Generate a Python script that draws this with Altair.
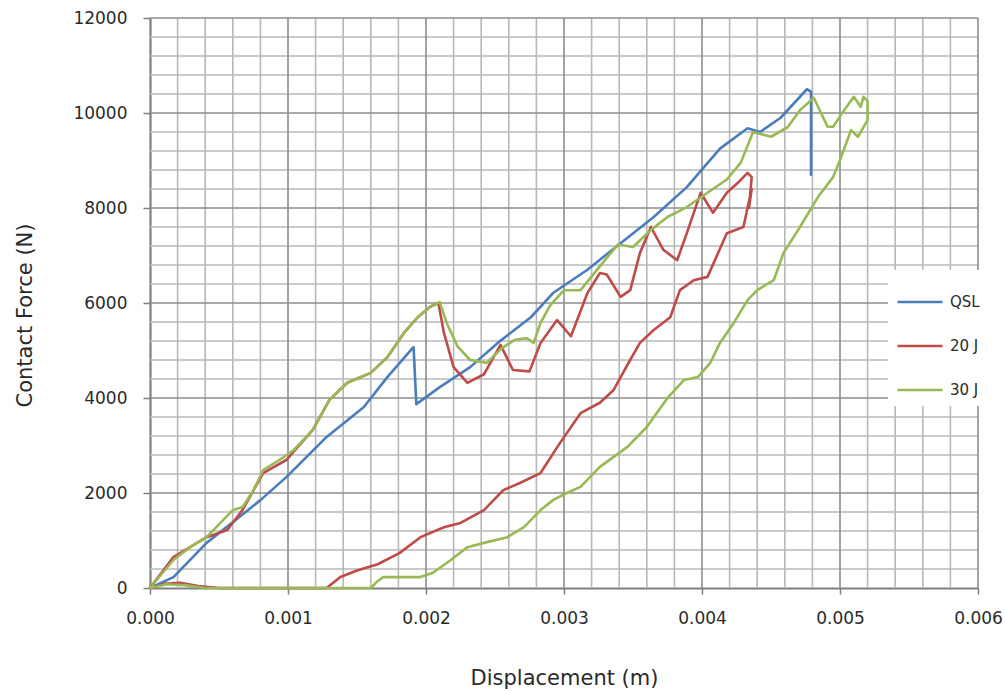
import altair as alt
import pandas as pd

# ---------------- data ----------------
series_names = ["QSL", "20 J", "30 J"]
series_colors = ["#4a7ebb", "#be4b48", "#98b954"]

qsl_x = [0.0, 0.00017, 0.00041, 0.00065, 0.00080, 0.00099, 0.00128, 0.00155, 0.00172,
         0.00189, 0.00191, 0.00193, 0.00210, 0.00232, 0.00252, 0.00276, 0.00292, 0.00317,
         0.00341, 0.00365, 0.00389, 0.00413, 0.00433, 0.00442, 0.00457, 0.00476, 0.00479,
         0.00479]
qsl_y = [0, 230, 950, 1500, 1850, 2340, 3180, 3810, 4440,
         5010, 5070, 3870, 4230, 4650, 5160, 5700, 6210, 6700,
         7260, 7810, 8440, 9250, 9680, 9600, 9900, 10500, 10450,
         8700]

j20_x = [0.0, 0.00017, 0.00041, 0.00056, 0.00067, 0.00082, 0.00099, 0.00118,
         0.00130, 0.00143, 0.00160, 0.00172, 0.00184, 0.00194, 0.00203, 0.00209, 0.00213,
         0.00220, 0.00230, 0.00242, 0.00254, 0.00263, 0.00275, 0.00283, 0.00295, 0.00305,
         0.00317, 0.00326, 0.00331, 0.00341, 0.00348, 0.00355, 0.00363, 0.00372, 0.00382,
         0.00389, 0.00399, 0.00408, 0.00418, 0.00426, 0.00433, 0.00436, 0.00434, 0.00436,
         0.00430, 0.00418, 0.00404, 0.00394, 0.00384, 0.00377, 0.00365, 0.00355, 0.00346,
         0.00336, 0.00326, 0.00312, 0.00297, 0.00283, 0.00268, 0.00256, 0.00242, 0.00225,
         0.00213, 0.00196, 0.00181, 0.00165, 0.00150, 0.00138, 0.00128, 0.00090, 0.00050,
         0.00035, 0.00022, 0.00010, 0.00002]
j20_y = [0, 650, 1070, 1220, 1640, 2420, 2700, 3330,
         3960, 4320, 4530, 4860, 5370, 5700, 5920, 6000, 5370,
         4650, 4320, 4500, 5120, 4590, 4560, 5160, 5640, 5300,
         6210, 6630, 6600, 6130, 6270, 7050, 7600, 7120, 6900,
         7470, 8320, 7900, 8320, 8530, 8740, 8650, 8000, 8400,
         7600, 7470, 6550, 6480, 6270, 5700, 5430, 5160, 4700,
         4170, 3900, 3680, 3050, 2420, 2210, 2060, 1640, 1370,
         1280, 1070, 740, 500, 370, 230, 0, 0, 0,
         40, 110, 90, 0]

j30_x = [0.0, 0.00017, 0.00029, 0.00041, 0.00060, 0.00067, 0.00075, 0.00082, 0.00094,
         0.00104, 0.00118, 0.00130, 0.00143, 0.00160, 0.00172, 0.00184, 0.00194, 0.00203,
         0.00210, 0.00215, 0.00223, 0.00232, 0.00244, 0.00255, 0.00264, 0.00273, 0.00278,
         0.00283, 0.00290, 0.00300, 0.00312, 0.00322, 0.00331, 0.00339, 0.00350, 0.00363,
         0.00375, 0.00389, 0.00404, 0.00418, 0.00428, 0.00437, 0.00450, 0.00462, 0.00471,
         0.00481, 0.00491, 0.00495, 0.00503, 0.00510, 0.00515, 0.00517, 0.00520, 0.00520,
         0.00513, 0.00508, 0.00500, 0.00495, 0.00484, 0.00471, 0.00459, 0.00452, 0.00440,
         0.00433, 0.00423, 0.00413, 0.00406, 0.00397, 0.00387, 0.00375, 0.00360, 0.00346,
         0.00326, 0.00312, 0.00302, 0.00292, 0.00283, 0.00271, 0.00259, 0.00242, 0.00230,
         0.00218, 0.00205, 0.00196, 0.00181, 0.00169, 0.00164, 0.00160, 0.00100, 0.00040,
         0.00025, 0.00012, 0.0]
j30_y = [0, 590, 860, 1070, 1640, 1700, 2060, 2480, 2700,
         2900, 3330, 3960, 4320, 4530, 4860, 5370, 5700, 5920,
         6020, 5580, 5080, 4800, 4740, 5050, 5220, 5260, 5160,
         5580, 5950, 6270, 6270, 6630, 6950, 7230, 7180, 7540,
         7810, 8020, 8320, 8600, 8950, 9600, 9500, 9700, 10060,
         10320, 9710, 9710, 10060, 10340, 10130, 10340, 10250, 9850,
         9500, 9640, 9010, 8650, 8230, 7600, 7050, 6480, 6270,
         6060, 5580, 5160, 4740, 4440, 4380, 4000, 3390, 2970,
         2550, 2130, 2000, 1850, 1640, 1280, 1070, 950, 860,
         590, 320, 230, 230, 230, 120, 0, 0, 0,
         60, 80, 0]

x_major = [0.000, 0.001, 0.002, 0.003, 0.004, 0.005, 0.006]
y_major = [0, 2000, 4000, 6000, 8000, 10000, 12000]

# ---------------- tables ----------------
rows = []
for name, xs, ys in [("QSL", qsl_x, qsl_y), ("20 J", j20_x, j20_y), ("30 J", j30_x, j30_y)]:
    for i, (a, b) in enumerate(zip(xs, ys)):
        rows.append({"series": name, "i": i, "x": a, "y": b})
df = pd.DataFrame(rows)

minor_x = pd.DataFrame({"x": [round(k * 0.0002, 4) for k in range(1, 30) if k % 5]})
minor_y = pd.DataFrame({"y": [k * 400 for k in range(1, 30) if k % 5]})
major_x = pd.DataFrame({"x": x_major[1:]})
major_y = pd.DataFrame({"y": y_major[1:]})

FONT = "DejaVu Sans"
TXT = "#2a2a2a"
xscale = alt.Scale(domain=[0, 0.006], nice=False, zero=False)
yscale = alt.Scale(domain=[0, 12000], nice=False)

x_axis = alt.Axis(values=x_major, format=".3f", grid=False,
                  domainColor="#7f7f7f", domainWidth=2.2,
                  tickColor="#7f7f7f", tickSize=6, tickWidth=1.5,
                  labelFont=FONT, labelFontSize=17, labelColor=TXT,
                  labelPadding=16, labelFlush=False,
                  title="Displacement (m)", titleFont=FONT, titleFontSize=21,
                  titleFontWeight="normal", titleColor=TXT,
                  titleY=96, titleBaseline="alphabetic")
y_axis = alt.Axis(values=y_major, format="d", grid=False,
                  domainColor="#7f7f7f", domainWidth=2.2,
                  tickColor="#7f7f7f", tickSize=7, tickWidth=1.5,
                  labelFont=FONT, labelFontSize=17, labelColor=TXT,
                  labelPadding=16, labelFlush=False,
                  title="Contact Force (N)", titleFont=FONT, titleFontSize=21,
                  titleFontWeight="normal", titleColor=TXT,
                  titleAngle=270, titleX=-125, titleY=297,
                  titleAlign="center", titleBaseline="middle")

minor_col = "#b8b8b8"
major_col = "#8c8c8c"

r_minor_x = alt.Chart(minor_x).mark_rule(color=minor_col, strokeWidth=1.6).encode(
    x=alt.X("x:Q", scale=xscale, axis=x_axis))
r_minor_y = alt.Chart(minor_y).mark_rule(color=minor_col, strokeWidth=1.6).encode(
    y=alt.Y("y:Q", scale=yscale, axis=y_axis))
r_major_x = alt.Chart(major_x).mark_rule(color=major_col, strokeWidth=1.6).encode(
    x=alt.X("x:Q", scale=xscale, axis=x_axis))
r_major_y = alt.Chart(major_y).mark_rule(color=major_col, strokeWidth=1.6).encode(
    y=alt.Y("y:Q", scale=yscale, axis=y_axis))

lines = alt.Chart(df).mark_line(strokeWidth=2.6, strokeJoin="round", strokeCap="round").encode(
    x=alt.X("x:Q", scale=xscale, axis=x_axis),
    y=alt.Y("y:Q", scale=yscale, axis=y_axis),
    color=alt.Color("series:N",
                    scale=alt.Scale(domain=series_names, range=series_colors),
                    legend=alt.Legend(title=None, orient="none", legendX=738, legendY=252,
                                      fillColor="white", padding=8,
                                      symbolType="stroke", symbolSize=2025,
                                      symbolStrokeWidth=2.6,
                                      labelFont=FONT, labelFontSize=15,
                                      labelColor=TXT, labelOffset=6,
                                      rowPadding=12)),
    order=alt.Order("i:Q"),
)

chart = alt.layer(r_minor_x, r_minor_y, r_major_x, r_major_y, lines).properties(
    width=828, height=570,
    padding={"left": 150, "top": 18, "right": 27, "bottom": 103},
    autosize=alt.AutoSizeParams(type="none"),
    background="white",
).configure_view(stroke=None)

chart.save("out.html", embed_options={"renderer": "svg", "actions": False})
